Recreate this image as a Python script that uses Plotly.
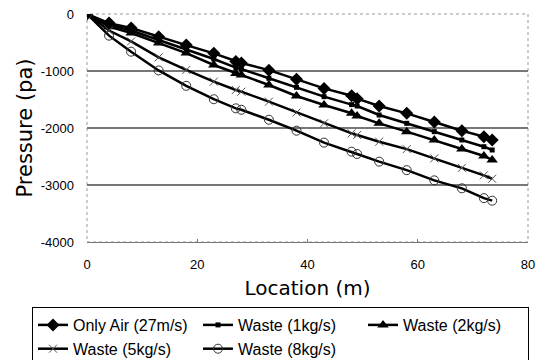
import plotly.graph_objects as go

location = [0, 4, 8, 13, 18, 23, 27, 28, 33, 38, 43, 48, 49, 53, 58, 63, 68, 72, 73.5]
only_air = [0, -160, -245, -400, -545, -690, -835, -860, -985, -1146, -1305, -1433, -1485, -1614, -1743, -1895, -2047, -2152, -2210]
waste_1 = [0, -190, -290, -455, -615, -790, -940, -965, -1128, -1286, -1450, -1590, -1614, -1772, -1918, -2064, -2210, -2328, -2386]
waste_2 = [0, -222, -333, -510, -685, -895, -1045, -1070, -1245, -1438, -1596, -1742, -1789, -1918, -2064, -2210, -2368, -2491, -2561]
waste_5 = [0, -290, -480, -760, -982, -1187, -1333, -1363, -1538, -1728, -1918, -2094, -2123, -2240, -2370, -2532, -2700, -2830, -2890]
waste_8 = [0, -380, -661, -990, -1260, -1495, -1655, -1680, -1855, -2047, -2257, -2415, -2456, -2590, -2740, -2918, -3058, -3230, -3275]

series_names = ["Only Air (27m/s)", "Waste (1kg/s)", "Waste (2kg/s)", "Waste (5kg/s)", "Waste (8kg/s)"]
x_ticks = [0, 20, 40, 60, 80]
y_ticks = [0, -1000, -2000, -3000, -4000]

styles = [
    dict(symbol="diamond", size=10, color="black", line=dict(width=0)),
    dict(symbol="square", size=5, color="black", line=dict(width=0)),
    dict(symbol="triangle-up", size=10, color="black", line=dict(width=0)),
    dict(symbol="x-thin", size=8, color="#555", line=dict(width=1, color="#555")),
    dict(symbol="circle-open", size=9, color="#333", line=dict(width=1, color="#333")),
]

fig = go.Figure()
for name, ys, mk in zip(series_names, [only_air, waste_1, waste_2, waste_5, waste_8], styles):
    fig.add_trace(go.Scatter(
        x=location, y=ys, name=name, mode="lines+markers",
        line=dict(color="black", width=2.5), marker=mk,
    ))

L, R, T, B = 87, 16, 14, 118
W, H = 544, 360
pw, ph = W - L - R, H - T - B

fig.update_layout(
    width=W, height=H,
    margin=dict(l=L, r=R, t=T, b=B, autoexpand=False),
    paper_bgcolor="white", plot_bgcolor="white",
    font=dict(family="Liberation Sans, Arial, sans-serif", color="black"),
    showlegend=True,
    legend=dict(
        orientation="h", xref="paper", yref="paper",
        x=(32 - L) / pw, y=-(307 - (H - B)) / ph, xanchor="left", yanchor="top",
        bordercolor="black", borderwidth=1, bgcolor="white",
        font=dict(size=16, family="Liberation Sans, Arial, sans-serif"),
        entrywidth=120, entrywidthmode="pixels",
        itemwidth=30, tracegroupgap=0,
    ),
    shapes=[dict(type="rect", xref="paper", yref="paper", x0=0, x1=1, y0=0, y1=1,
                 line=dict(color="#999", width=1, dash="dot"), layer="below")],
)
fig.update_xaxes(
    range=[0, 80], tickvals=x_ticks, ticktext=[str(v) for v in x_ticks],
    showgrid=False, zeroline=False, showline=True, linecolor="#777", linewidth=1,
    ticks="inside", ticklen=3, tickcolor="#777",
    tickfont=dict(size=13), ticklabelstandoff=10,
    title=dict(text="Location (m)", font=dict(size=20, family="DejaVu Sans, sans-serif"), standoff=10),
)
fig.update_yaxes(
    range=[-4000, 0], tickvals=y_ticks, ticktext=[str(v) for v in y_ticks],
    showgrid=False, zeroline=False, showline=False,
    ticks="", tickfont=dict(size=13), ticklabelstandoff=12,
    minor=dict(tickvals=[-1000, -2000, -3000], showgrid=True, gridcolor="#777", gridwidth=1.5),
    title=dict(text="Pressure (pa)", font=dict(size=21, family="DejaVu Sans, sans-serif"), standoff=2),
)

fig.write_html("out.html")
